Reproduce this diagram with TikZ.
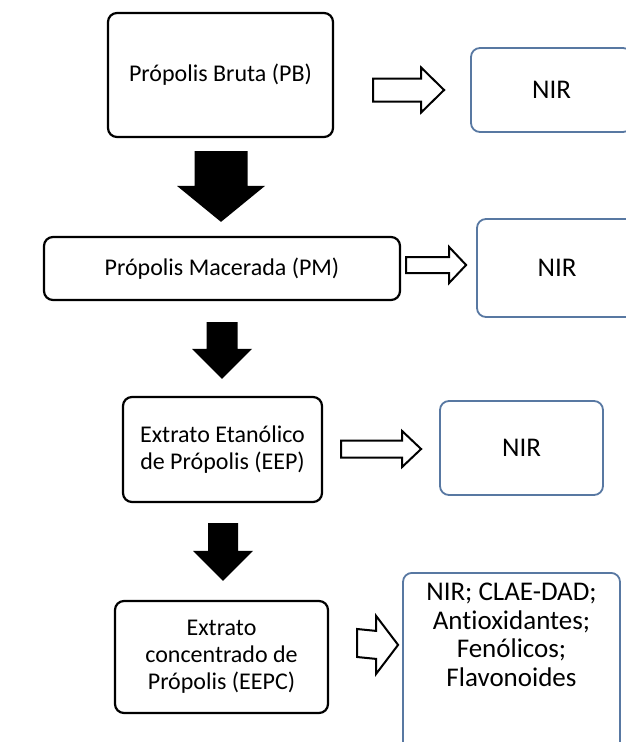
\documentclass[tikz,border=0pt]{standalone}
\usepackage{fontspec}
\setmainfont{Carlito}[Ligatures=NoCommon]
\usetikzlibrary{calc}
\definecolor{nirblue}{RGB}{88,120,162}

\begin{document}
\begin{tikzpicture}[x=1pt,y=-1pt,
		procbox/.style={draw, line width=2.2pt, rounded corners=9pt, align=center, inner sep=0pt, font=\fontsize{24}{27}\selectfont},
		nirbox/.style={draw=nirblue, line width=1.8pt, rounded corners=9pt, align=center, inner sep=0pt, font=\fontsize{27}{28.5}\selectfont},
		downarrow/.style n args={3}{fill=black, to path={
			($(\tikztostart)+(-#1,0)$) -- ($(\tikztotarget)+(-#1,-#3)$) -- ($(\tikztotarget)+(-#2,-#3)$) -- (\tikztotarget)
			-- ($(\tikztotarget)+(#2,-#3)$) -- ($(\tikztotarget)+(#1,-#3)$) -- ($(\tikztostart)+(#1,0)$) -- cycle}},
		openarrow/.style n args={3}{draw, line width=2pt, fill=white, to path={
			($(\tikztostart)+(0,-#1)$) -- ($(\tikztotarget)+(-#3,-#1)$) -- ($(\tikztotarget)+(-#3,-#2)$) -- (\tikztotarget)
			-- ($(\tikztotarget)+(-#3,#2)$) -- ($(\tikztotarget)+(-#3,#1)$) -- ($(\tikztostart)+(0,#1)$) -- cycle}}]
			\useasboundingbox (0,0) rectangle (626,742);
			\clip (0,0) rectangle (626,742);
			
			\node[procbox, minimum width=225pt, minimum height=124pt] (pb) at (220.5,75) {Própolis Bruta (PB)};
			\node[procbox, minimum width=356pt, minimum height=63pt] (pm) at (222,268.5) {Própolis Macerada (PM)};
			\node[procbox, minimum width=199pt, minimum height=105pt] (eep) at (222.5,449.5) {Extrato Etanólico\\de Própolis (EEP)};
			\node[procbox, minimum width=213pt, minimum height=112pt] (eepc) at (221.5,657) {Extrato\\concentrado de\\Própolis (EEPC)};
			
			\node[nirbox, minimum width=161pt, minimum height=84pt] (nir1) at (551.5,90) {NIR};
			\node[nirbox, minimum width=160pt, minimum height=98pt] (nir2) at (557,268) {NIR};
			\node[nirbox, minimum width=163pt, minimum height=94pt] (nir3) at (521.5,448) {NIR};
			\node[nirbox, minimum width=217pt, minimum height=190pt, anchor=north] (nir4) at (511.5,572) {};
			\node[align=center, inner sep=0pt, font=\fontsize{27}{28.5}\selectfont] (nir4txt) at (511.5,635) {NIR; CLAE-DAD;\\Antioxidantes;\\Fenólicos;\\Flavonoides};
			
			\fill[downarrow={26.5}{44}{36}] ($(pb.south)+(0.5,13)$) to ($(pb.south |- pm.north)+(0.5,-14)$);
			\fill[downarrow={15.5}{30}{30}] ($(pm.south)+(0,21)$) to ($(pm.south |- eep.north)+(0,-17)$);
			\fill[downarrow={15}{30}{30}] ($(eep.south)+(0.5,20)$) to ($(eep.south |- eepc.north)+(0.5,-19)$);
			
			\draw[openarrow={11.5}{22.5}{23}] ($(pb.east |- nir1.west)+(39,0)$) to ($(nir1.west)+(-26,0)$);
			\draw[openarrow={8}{18}{17}] ($(pm.east)+(5,-3.5)$) to ($(nir2.west)+(-10,-3)$);
			\draw[openarrow={8.5}{18}{19}] ($(eep.east)+(18,-0.5)$) to ($(nir3.west)+(-18,1)$);
			\draw[openarrow={14}{29}{22}] ($(eepc.east)+(28,-14)$) to ($(nir4.west)+(-4,-23)$);
		\end{tikzpicture}
\end{document}
